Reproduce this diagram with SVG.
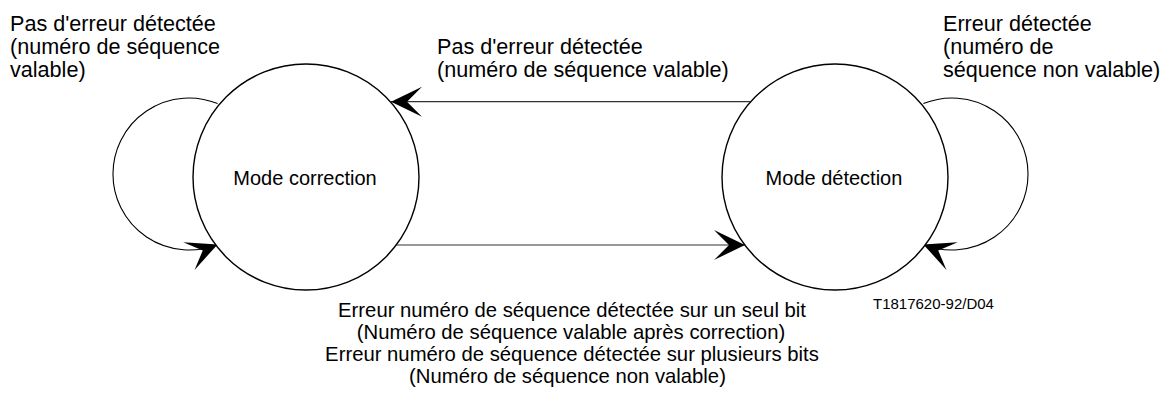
<svg xmlns="http://www.w3.org/2000/svg" width="1162" height="397" viewBox="0 0 1162 397">
  <style>
    .state { fill: #ffffff; stroke: #000000; stroke-width: 1.4; }
    .conn { fill: none; stroke: #333333; stroke-width: 1.2; }
    .loop { fill: none; stroke: #000000; stroke-width: 1.1; }
    .label { font-family: "Liberation Sans", Arial, sans-serif; font-size: 21.6px; fill: #000000; }
    .note { font-family: "Liberation Sans", Arial, sans-serif; font-size: 20.3px; fill: #000000; text-anchor: middle; }
    .name { font-family: "Liberation Sans", Arial, sans-serif; font-size: 20px; fill: #000000; text-anchor: middle; }
    .ref { font-family: "Liberation Sans", Arial, sans-serif; font-size: 15px; fill: #000000; }
  </style>
  <defs>
    <marker id="barb" viewBox="-32 -16 34 32" markerWidth="34" markerHeight="32" refX="0" refY="0" orient="auto" markerUnits="userSpaceOnUse">
      <path d="M0,0 L-31,-15 L-16,0 L-31,15 Z" fill="#000000"/>
    </marker>
  </defs>
  <rect width="1162" height="397" fill="#ffffff"/>

  <g id="connectors">
    <!-- self loop on the correction state -->
    <path class="loop" d="M217.6,103.6 A76,76 0 1 0 217.6,244.4" marker-end="url(#barb)"/>
    <!-- self loop on the detection state -->
    <path class="loop" d="M923.4,103.6 A76,76 0 1 1 923.4,244.4" marker-end="url(#barb)"/>
    <!-- detection -> correction -->
    <line class="conn" x1="750" y1="101.7" x2="391" y2="101.7" marker-end="url(#barb)"/>
    <!-- correction -> detection -->
    <line class="conn" x1="396" y1="245" x2="745" y2="245" marker-end="url(#barb)"/>
  </g>

  <g id="mode-correction">
    <circle class="state" cx="306" cy="177" r="113"/>
    <text class="name" x="305" y="185">Mode correction</text>
  </g>

  <g id="mode-detection">
    <circle class="state" cx="835" cy="177" r="113"/>
    <text class="name" x="834" y="185">Mode détection</text>
  </g>

  <g id="labels">
    <text class="label" x="10" y="30.5">Pas d'erreur détectée</text>
    <text class="label" x="10" y="54">(numéro de séquence</text>
    <text class="label" x="10" y="77">valable)</text>

    <text class="label" x="437" y="53.5">Pas d'erreur détectée</text>
    <text class="label" x="437" y="76.5">(numéro de séquence valable)</text>

    <text class="label" x="943" y="31">Erreur détectée</text>
    <text class="label" x="943" y="54">(numéro de</text>
    <text class="label" x="943" y="77">séquence non valable)</text>

    <text class="note" x="572" y="317">Erreur numéro de séquence détectée sur un seul bit</text>
    <text class="note" x="571" y="339">(Numéro de séquence valable après correction)</text>
    <text class="note" x="572" y="360.5">Erreur numéro de séquence détectée sur plusieurs bits</text>
    <text class="note" x="567.5" y="382.5">(Numéro de séquence non valable)</text>

    <text class="ref" x="873" y="309">T1817620-92/D04</text>
  </g>
</svg>
